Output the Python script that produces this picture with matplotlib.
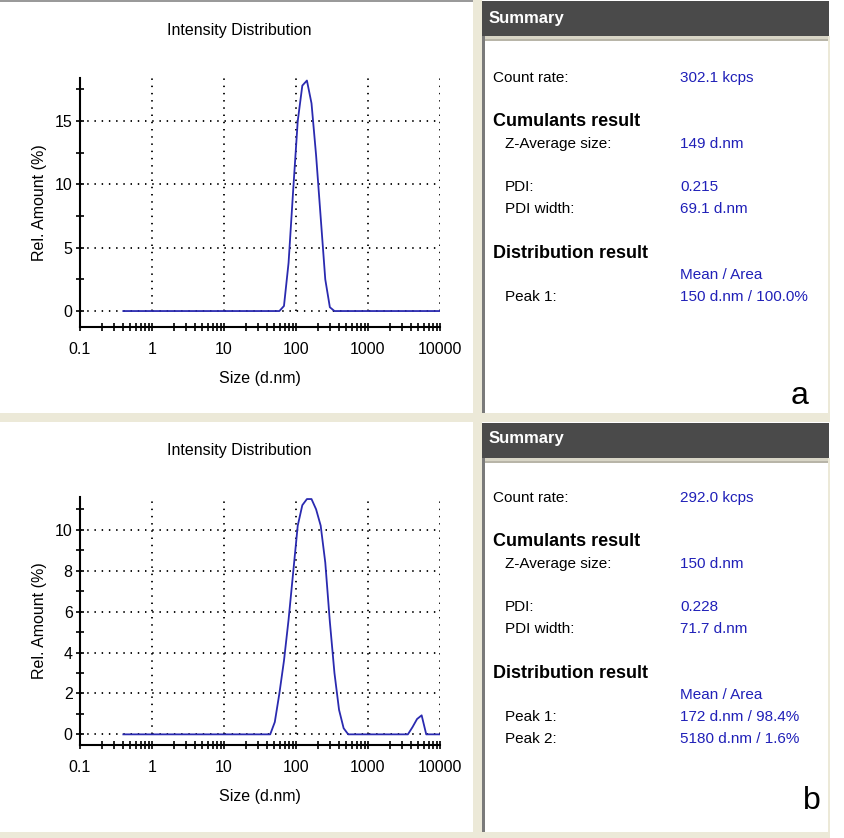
import matplotlib
matplotlib.use("Agg")
import matplotlib.pyplot as plt
from matplotlib.patches import Rectangle
from matplotlib.ticker import FixedLocator, NullFormatter, FixedFormatter

plt.rcParams['font.family'] = ['Liberation Sans', 'DejaVu Sans']

# instrument size bins (d.nm) and intensity (%)
sizes_a = [0.4, 58.77, 68.06, 78.82, 91.28, 105.7, 122.4, 141.8, 164.2,
           190.1, 220.2, 255.0, 295.3, 342.0, 10000]
intensity_a = [0, 0, 0.4, 3.8, 9.5, 15.0, 17.8, 18.2, 16.4,
               12.3, 7.4, 2.5, 0.3, 0, 0]

sizes_b = [0.4, 43.82, 50.75, 58.77, 68.06, 78.82, 91.28, 105.7, 122.4,
           141.8, 164.2, 190.1, 220.2, 255.0, 295.3, 342.0, 396.1, 458.7,
           531.2, 3580, 4145, 4801, 5560, 6439, 10000]
intensity_b = [0, 0, 0.6, 2.0, 3.6, 5.6, 7.9, 10.2, 11.2,
               11.5, 11.5, 11.0, 10.2, 8.4, 5.5, 3.0, 1.2, 0.3,
               0, 0, 0.35, 0.75, 0.93, 0, 0]

x_ticks = [0.1, 1, 10, 100, 1000, 10000]
x_tick_labels = ['0.1', '1', '10', '100', '1000', '10000']

summary_a = {
    'count': '302.1 kcps', 'zavg': '149 d.nm', 'pdi': '0.215',
    'pdiw': '69.1 d.nm', 'peaks': [('Peak 1:', '150 d.nm / 100.0%')],
}
summary_b = {
    'count': '292.0 kcps', 'zavg': '150 d.nm', 'pdi': '0.228',
    'pdiw': '71.7 d.nm',
    'peaks': [('Peak 1:', '172 d.nm / 98.4%'), ('Peak 2:', '5180 d.nm / 1.6%')],
}

W, H = 845, 838
fig = plt.figure(figsize=(W / 100, H / 100), dpi=100)
fig.patch.set_facecolor('white')

def fx(x):
    return x / W

def fy(y):
    return 1 - y / H

def box(x0, y0, x1, y1, color):
    fig.patches.append(Rectangle((fx(x0), fy(y1)), fx(x1) - fx(x0), fy(y0) - fy(y1),
                                 transform=fig.transFigure, facecolor=color,
                                 edgecolor='none', zorder=0))

BEIGE = '#ECE9D8'
HEAD = '#4A4A4A'
BLUE = '#2020B8'
DOTS = (0, (0.8, 3.2))

# window frame pieces
box(0, 0, 473, 2, '#9A9A9A')
box(473, 0, 482, H, BEIGE)
box(0, 413, 830, 422, BEIGE)
box(0, 832, 830, H, BEIGE)
for top, bottom in [(0, 413), (422, 832)]:
    box(482, top + 1, 829, top + 36, HEAD)
    box(482, top + 36, 829, top + 39, '#D8D5C6')
    box(482, top + 39, 829, top + 41, '#B8B5A8')
    box(482, top + 36, 485, bottom, '#7A7A7A')
    box(828, top + 36, 830, bottom, BEIGE)


def dls_plot(top, bottom, sizes, values, ylim, major, minor, labels):
    ax = fig.add_axes([fx(80), fy(bottom), fx(440) - fx(80), fy(top) - fy(bottom)])
    ax.plot(sizes, values, color='#2A2AB0', lw=1.3, zorder=3)
    ax.set_xscale('log')
    ax.set_xlim(0.1, 10000)
    ax.set_ylim(*ylim)
    for s in ['top', 'right']:
        ax.spines[s].set_visible(False)
    for s in ['left', 'bottom']:
        ax.spines[s].set_linewidth(1.5)
    ax.xaxis.set_major_locator(FixedLocator(x_ticks))
    ax.xaxis.set_major_formatter(FixedFormatter(x_tick_labels))
    ax.xaxis.set_minor_locator(FixedLocator(
        [m * 10.0 ** e for e in range(-1, 4) for m in range(2, 10)]))
    ax.xaxis.set_minor_formatter(NullFormatter())
    ax.yaxis.set_major_locator(FixedLocator(major))
    ax.yaxis.set_major_formatter(FixedFormatter(labels))
    ax.yaxis.set_minor_locator(FixedLocator(minor))
    ax.tick_params(which='both', direction='inout', length=5.5, width=1.2,
                   labelsize=11.5, colors='black')
    ax.tick_params(axis='x', pad=8)
    ax.tick_params(axis='y', pad=2.5)
    # dotted grid: horizontal across, vertical only down to the zero line
    ax.grid(True, axis='y', which='major', color='black', linestyle=DOTS, lw=1.3)
    ax.vlines(x_ticks[1:], 0, ylim[1], colors='black', linestyles=[DOTS], lw=1.3,
              zorder=1)
    ax.set_xlabel('Size (d.nm)', fontsize=11.5, labelpad=10)
    ax.set_ylabel('Rel. Amount (%)', fontsize=11.5, labelpad=6)
    ax.set_facecolor('none')
    fig.text(fx(239), fy(top - 47), 'Intensity Distribution', fontsize=11.5,
             ha='center', va='center')
    return ax


dls_plot(78, 327, sizes_a, intensity_a, (-1.26, 18.4), [0, 5, 10, 15],
         [2.5, 7.5, 12.5, 17.5], ['0', '5', '10', '15'])
dls_plot(497, 745, sizes_b, intensity_b, (-0.52, 11.6), [0, 2, 4, 6, 8, 10],
         [1, 3, 5, 7, 9, 11], ['0', '2', '4', '6', '8', '10'])


def summary(top, info, tag, tag_xy):
    fig.text(fx(489), fy(top + 18), 'Summary', color='white', fontsize=12,
             fontweight='bold', va='center')
    rows = [
        (493, 78, 'Count rate:', info['count'], 'normal'),
        (493, 121, 'Cumulants result', None, 'bold'),
        (505, 144, 'Z-Average size:', info['zavg'], 'normal'),
        (505, 187, 'PDI:', info['pdi'], 'normal'),
        (505, 209, 'PDI width:', info['pdiw'], 'normal'),
        (493, 253, 'Distribution result', None, 'bold'),
        (None, 275, None, 'Mean / Area', 'normal'),
    ]
    for i, (name, val) in enumerate(info['peaks']):
        rows.append((505, 297 + 22 * i, name, val, 'normal'))
    for x, y, name, val, weight in rows:
        if name:
            fig.text(fx(x), fy(top + y), name, fontsize=13 if weight == 'bold' else 11,
                     fontweight=weight, va='center', color='black')
        if val:
            fig.text(fx(680), fy(top + y), val, fontsize=11, va='center', color=BLUE)
    fig.text(fx(tag_xy[0]), fy(tag_xy[1]), tag, fontsize=23, ha='center',
             va='center', color='black')


summary(0, summary_a, 'a', (800, 396))
summary(420, summary_b, 'b', (812, 801))

fig.savefig('out.png', dpi=100)
